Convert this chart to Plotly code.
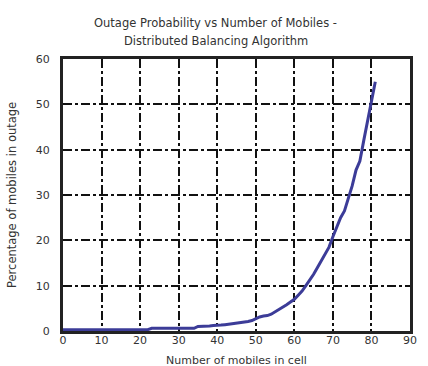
import plotly.graph_objects as go

mobiles = list(range(0, 82))
outage = ([0.3] * 23 +
          [0.6] * 12 +
          [1.0, 1.0, 1.1, 1.1, 1.2, 1.2] +
          [1.3, 1.4, 1.5, 1.6, 1.8, 1.9, 2.0, 2.1, 2.3,
           2.7, 3.1, 3.3, 3.4, 3.7, 4.2, 4.7, 5.3, 5.8, 6.4,
           7.0, 7.9, 8.8, 10.0, 11.2, 12.5, 14.0, 15.5, 17.0, 18.5,
           20.8, 23.0, 25.0, 26.5, 29.0, 32.0, 35.5, 37.5, 42.0, 46.5,
           51.0, 55.0])

x_ticks = [0, 10, 20, 30, 40, 50, 60, 70, 80, 90]
y_ticks = [0, 10, 20, 30, 40, 50, 60]

title_lines = ["Outage Probability vs Number of Mobiles -",
               "Distributed Balancing Algorithm"]
x_title = "Number of mobiles in cell"
y_title = "Percentage of mobiles in outage"

FONT = "DejaVu Sans"
TXT = "#333333"
PW, PH = 347, 272

fig = go.Figure()
fig.add_trace(go.Scatter(x=mobiles, y=outage, mode="lines",
                         line=dict(color="#3c3c98", width=3),
                         showlegend=False))

fig.update_layout(
    width=428, height=366,
    margin=dict(l=63, r=18, t=59, b=35),
    paper_bgcolor="white", plot_bgcolor="white",
    font=dict(family=FONT, color=TXT, size=12),
)
for i, line in enumerate(title_lines):
    fig.add_annotation(text=line, xref="paper", yref="paper",
                       x=0.44, y=1 + (36 - 18 * i) / PH,
                       xanchor="center", yanchor="middle", showarrow=False,
                       font=dict(family=FONT, size=11.5, color=TXT))
fig.add_annotation(text=x_title, xref="paper", yref="paper",
                   x=(236 - 63) / PW, y=-(360 - 331) / PH,
                   xanchor="center", yanchor="middle", showarrow=False,
                   borderpad=0,
                   font=dict(family=FONT, size=11, color=TXT))
fig.add_annotation(text=y_title, xref="paper", yref="paper", textangle=-90,
                   x=(12 - 63) / PW, y=0.5,
                   xanchor="center", yanchor="middle", showarrow=False,
                   font=dict(family=FONT, size=11.5, color=TXT))

fig.update_xaxes(
    range=[0, 90], tickvals=x_ticks, ticktext=[str(v) for v in x_ticks],
    showgrid=True, gridcolor="#111111", gridwidth=2, griddash="dashdot",
    showline=True, linecolor="#222222", linewidth=3, mirror=True,
    ticks="", ticklabelstandoff=-3,
    zeroline=False, automargin=False,
    tickfont=dict(size=11, color=TXT),
)
fig.update_yaxes(
    range=[0, 60], tickvals=y_ticks, ticktext=[str(v) for v in y_ticks],
    showgrid=True, gridcolor="#111111", gridwidth=2, griddash="dashdot",
    showline=True, linecolor="#222222", linewidth=3, mirror=True,
    ticks="", ticklabelstandoff=8,
    zeroline=False, automargin=False,
    tickfont=dict(size=11, color=TXT),
)

fig.write_html("out.html", config={"displayModeBar": False},
               post_script="document.body.style.margin='0';document.body.style.overflow='hidden';")
